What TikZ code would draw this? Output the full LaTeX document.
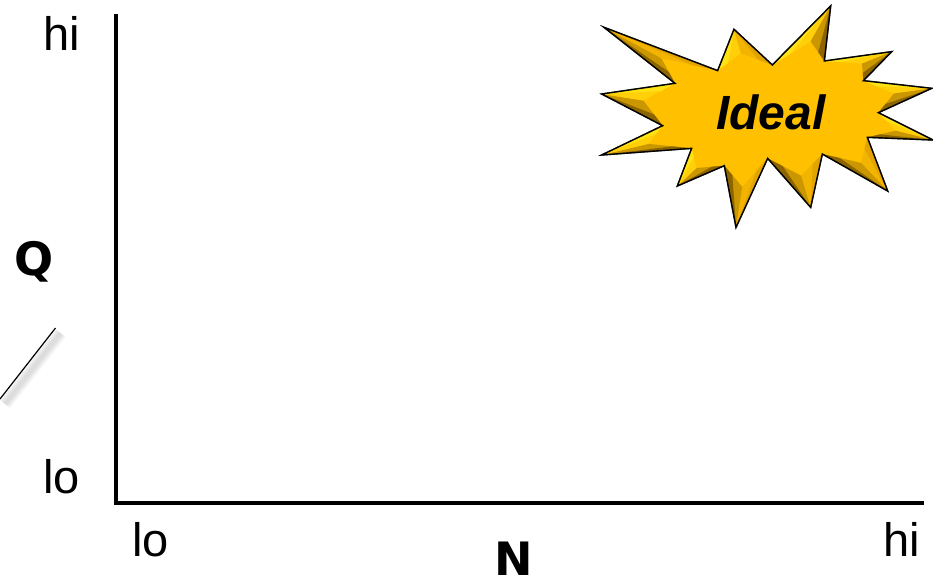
\documentclass[tikz,border=0pt]{standalone}
\usepackage{fontspec}
\setmainfont{Liberation Sans}
\newfontfamily\labelfont{DejaVu Sans}
\usetikzlibrary{calc}
\definecolor{stargold}{RGB}{255, 192, 0}
\definecolor{starlight}{RGB}{255, 226, 20}
\definecolor{starmid}{RGB}{226, 164, 0}
\definecolor{stardark}{RGB}{140, 100, 0}
\tikzstyle{axisline} = [
    line width=3.6pt, 
    line cap=rect, 
    color=black
]
\tikzstyle{rangelabel} = [
    inner sep=0pt, 
    anchor=base west, 
    font=\fontsize{47}{47}\selectfont
]
\tikzstyle{quantity} = [
    inner sep=0pt, 
    anchor=base, 
    font=\fontsize{46}{46}\selectfont\labelfont\bfseries
]
\tikzstyle{burst} = [
    draw=black, 
    line width=1.4pt, 
    line join=miter, 
    miter limit=10
]

\begin{document}
\begin{tikzpicture}[x=1pt, y=-1pt]
        \useasboundingbox (0, 0) rectangle (933, 581);
        % Axes
        \coordinate (ytop) at (116, 16);
        \coordinate (orig) at (116, 503);
        \coordinate (xend) at (922, 503);
        \draw[axisline] (ytop) -- (orig) -- (xend);
        
        % Range labels
        \node[rangelabel] (yhi) at (43, 50) {hi};
        \node[rangelabel] (ylo) at (43, 493) {lo};
        \node[rangelabel] (xlo) at (132, 556) {lo};
        \node[rangelabel] (xhi) at (883, 556) {hi};
        \node[quantity] (qlabel) at (34, 275) {Q};
        \node[quantity] (nlabel) at (514, 575) {N};
        
        % Stray stroke with soft shadow
        \coordinate (strokea) at (55.5, 328);
        \coordinate (strokeb) at (0, 399);
        \foreach \w in {13, 10, 7, 4} {
            \draw[line width=\w pt, color=black, opacity=0.035] ([shift={(5, 5)}]strokea) -- ([shift={(5, 5)}]strokeb);
        }
        \draw[line width=1.2pt] (strokea) -- (strokeb);
        
        % Burst outline points
        \foreach \i/\px/\py in {1/42/82, 2/383/212, 3/432/88, 4/547/195, 5/722/18, 6/703/183, 7/905/155, 8/820/242,
            9/1025/265, 10/865/338, 11/1029/420, 12/832/412, 13/893/573, 14/697/462, 15/662/622, 16/533/475,
            17/438/682, 18/403/497, 19/262/558, 20/305/445, 21/35/465, 22/218/377, 23/35/282, 24/255/250} {
            \coordinate (s\i) at (590 + \px/3, \py/3);
        }
        \draw[burst, draw=black!65, shift={(0.8, 0.8)}] (s1) \foreach \i in {2, ..., 24} { -- (s\i) } -- cycle;
        \fill[stargold] (s1) \foreach \i in {2, ..., 24} { -- (s\i) } -- cycle;
        
        % Bevel faces: tip / previous valley / next valley / their colours
        \foreach \t/\a/\b/\ca/\cb in {1/24/2/stardark/starmid, 3/2/4/starlight/starmid, 5/4/6/starlight/stardark,
            7/6/8/starlight/stardark, 9/8/10/starlight/stardark, 11/10/12/starlight/stardark,
            13/12/14/starmid/stardark, 15/14/16/starmid/stardark, 17/16/18/starmid/stardark,
            19/18/20/stardark/starlight, 21/20/22/stardark/starlight, 23/22/24/stardark/starlight} {
            \coordinate (r\t) at ($(s\t)!0.62!($(s\a)!0.5!(s\b)$)$);
            \fill[\ca!45!stargold] (s\t) -- (s\a) -- (r\t) -- cycle;
            \fill[\cb!45!stargold] (s\t) -- (s\b) -- (r\t) -- cycle;
            \fill[\ca] (s\t) -- (s\a) -- ($(s\a)!0.45!(r\t)$) -- cycle;
            \fill[\cb] (s\t) -- (s\b) -- ($(s\b)!0.45!(r\t)$) -- cycle;
        }
        \draw[burst] (s1) \foreach \i in {2, ..., 24} { -- (s\i) } -- cycle;
        \node[inner sep=0pt, font=\fontsize{48}{48}\selectfont\bfseries\itshape] (ideal) at (771, 112) {Ideal};
    \end{tikzpicture}
\end{document}
